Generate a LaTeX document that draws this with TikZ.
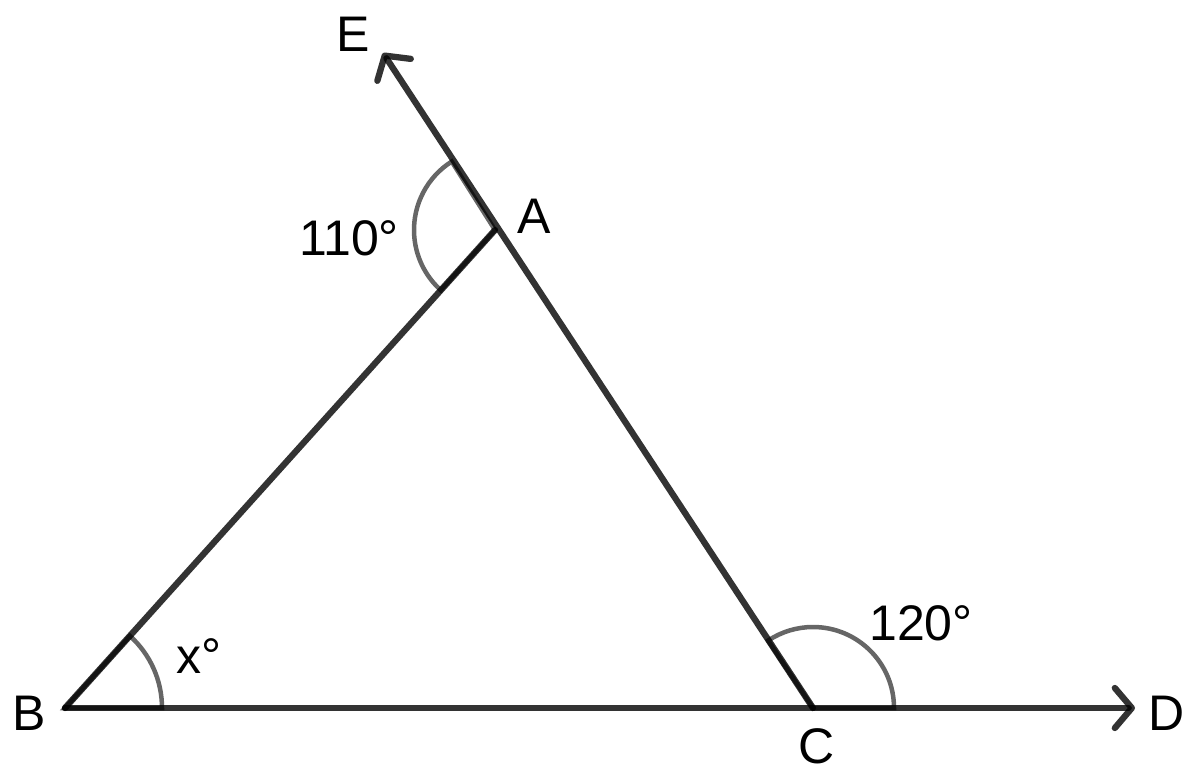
\documentclass[tikz,border=0pt]{standalone}
\usepackage{fontspec}
\setmainfont{Liberation Sans}
\usetikzlibrary{arrows.meta}
\begin{document}
\begin{tikzpicture}[x=1pt,y=-1pt,
  ray/.style={draw=black, draw opacity=0.8, line width=6.3pt, line cap=round, line join=round},
  tip/.style={-{Straight Barb[length=17pt,width=40pt,line width=6.3pt,round]}},
  anglemark/.style={draw=black, draw opacity=0.6, line width=4.5pt},
  lbl/.style={font=\fontsize{50}{56}\selectfont, anchor=base, inner sep=0pt}]
\useasboundingbox (0,0) rectangle (1200,784);
\coordinate (B) at (65,708);
\coordinate (C) at (813,708);
\coordinate (A) at (495,230);
\coordinate (E) at (383,53);
\coordinate (D) at (1135,708);
% angle marks
\draw[anglemark] (B) -- ++(0:97) arc[start angle=0,end angle=-48,radius=97] -- cycle;
\draw[anglemark] (C) -- ++(0:81) arc[start angle=0,end angle=-123.6,radius=81] -- cycle;
\draw[anglemark] (A) -- ++(-122.3:81) arc[start angle=-122.3,end angle=-228,radius=81] -- cycle;
% lines
\draw[ray,tip] (B) -- (D);
\draw[ray,tip] (C) -- (E);
\draw[ray] (B) -- (A);
% labels
\node[lbl] (lE) at (353,52) {E};
\node[lbl] (lA) at (534,233) {A};
\node[lbl] (l110) at (349,255) {110°};
\node[lbl] (l120) at (921,640) {120°};
\node[lbl] (lC) at (817,763) {C};
\node[lbl] (lD) at (1167,730) {D};
\node[lbl] (lB) at (29,730) {B};
\node[lbl] (lx) at (199,673) {x°};
\end{tikzpicture}
\end{document}
